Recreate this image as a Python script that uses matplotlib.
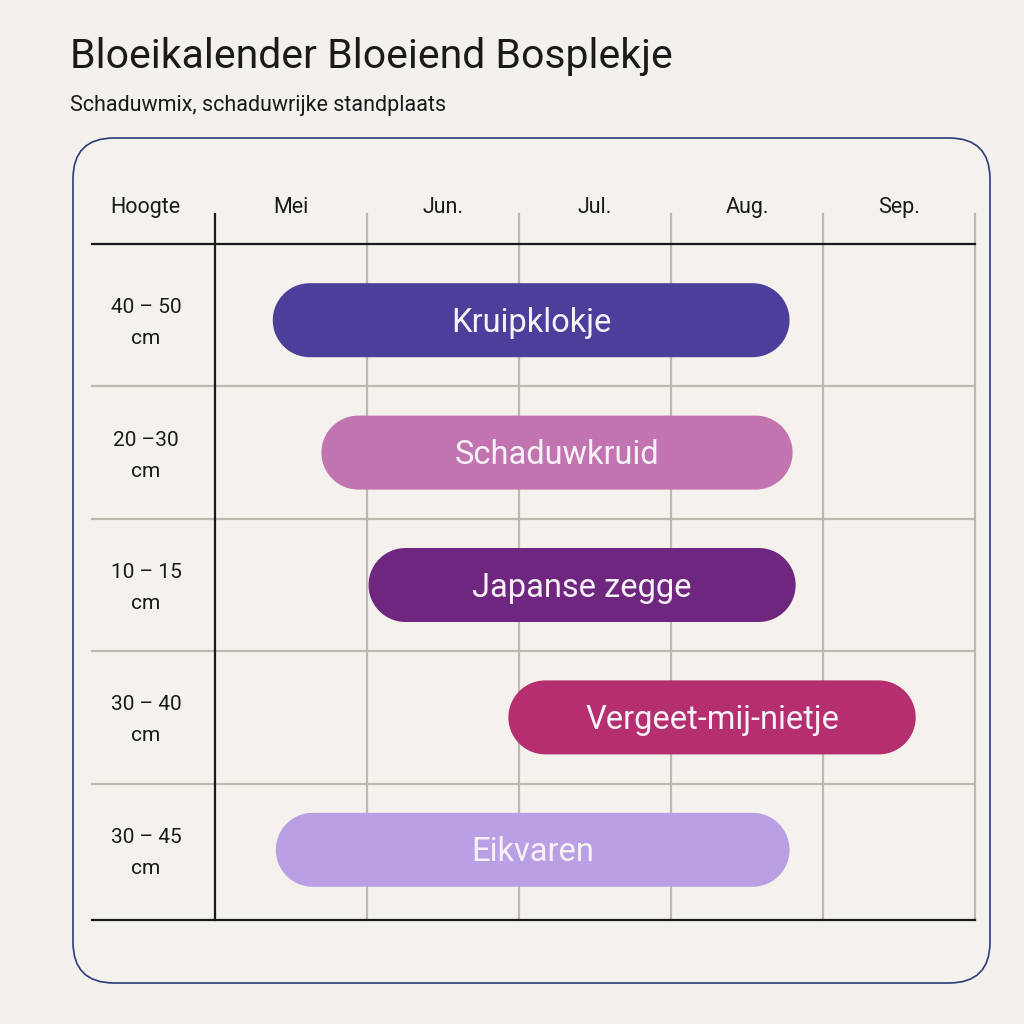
import matplotlib
matplotlib.use("Agg")
import matplotlib.pyplot as plt
import numpy as np
from matplotlib.patches import FancyBboxPatch, Polygon
from matplotlib.transforms import offset_copy

# --- data ---
months = ["Mei", "Jun.", "Jul.", "Aug.", "Sep."]
plants = ["Kruipklokje", "Schaduwkruid", "Japanse zegge", "Vergeet-mij-nietje", "Eikvaren"]
heights = ["40 – 50\ncm", "20 –30\ncm", "10 – 15\ncm", "30 – 40\ncm", "30 – 45\ncm"]
# bloom start / end in months from the start of May
bloom_start = [0.38, 0.70, 1.01, 1.93, 0.40]
bloom_end = [3.78, 3.80, 3.82, 4.61, 3.78]
colors = ["#4b3f9b", "#c274b0", "#6e267e", "#b52e70", "#b9a0e4"]

bg = "#f4f0eb"
grid_col = "#bdb8b0"
ink = "#1a1a1a"

plt.rcParams["font.family"] = ["Roboto", "DejaVu Sans"]

W = H = 1024
fig = plt.figure(figsize=(W / 100, H / 100), dpi=100, facecolor=bg)

# outer rounded frame
frame = FancyBboxPatch((73 / W, 1 - 983 / H), 917 / W, 845 / H,
                       boxstyle="round,pad=0,rounding_size=0.04",
                       transform=fig.transFigure, facecolor="#f5f1ec",
                       edgecolor="#2d3a7c", linewidth=1.2, zorder=-1)
fig.patches.append(frame)

fig.text(70 / W, 1 - 68 / H, "Bloeikalender Bloeiend Bosplekje",
         fontsize=29.5, color=ink, va="baseline", ha="left")
fig.text(70 / W, 1 - 111 / H, "Schaduwmix, schaduwrijke standplaats",
         fontsize=15.5, color=ink, va="baseline", ha="left")

# chart body: x = months since start of May, y = row index
x0, x1, ytop, ybot = 215, 975, 254, 916
ax = fig.add_axes([x0 / W, 1 - ybot / H, (x1 - x0) / W, (ybot - ytop) / H])
ax.set_zorder(1)
ax.set_xlim(0, len(months))
ax.set_ylim(len(plants), 0)
ax.axis("off")
ax.patch.set_alpha(0)

px_x = (x1 - x0) / len(months)
px_y = (ybot - ytop) / len(plants)


def dx(px):
    return (px - x0) / px_x


def dy(py):
    return (py - ytop) / px_y


n = len(plants)
left_ext = dx(92)
head_top = dy(214)
head_line = dy(244)
foot_line = dy(920)

# grid
for m in range(1, len(months) + 1):
    ax.plot([m, m], [head_top, foot_line], color=grid_col, lw=1.6,
            clip_on=False, zorder=1)
for r in range(1, n):
    ax.plot([left_ext, len(months)], [r, r], color=grid_col, lw=1.6,
            clip_on=False, zorder=1)
ax.plot([left_ext, len(months)], [head_line, head_line], color=ink, lw=1.6,
        clip_on=False, zorder=2)
ax.plot([left_ext, len(months)], [foot_line, foot_line], color=ink, lw=1.6,
        clip_on=False, zorder=2)
ax.plot([0, 0], [head_top, foot_line], color=ink, lw=1.6, clip_on=False, zorder=2)


def base_tr(cap_px):
    # shift a baseline-anchored text down so its cap height is centred
    return offset_copy(ax.transData, fig=fig, x=0, y=-cap_px / 2, units="dots")


# header
hdr_tr = base_tr(16)
ax.text(dx(145), dy(205), "Hoogte", ha="center", va="baseline",
        fontsize=15.5, color=ink, clip_on=False, transform=hdr_tr)
for i, m in enumerate(months):
    ax.text(i + 0.5, dy(205), m, ha="center", va="baseline", fontsize=15.5,
            color=ink, clip_on=False, transform=hdr_tr)


def pill(s, e, yc, hh, rx):
    # outline of a bar with semicircular ends
    t = np.linspace(-np.pi / 2, np.pi / 2, 40)
    right = np.column_stack([e - rx + rx * np.cos(t), yc + hh * np.sin(t)])
    left = np.column_stack([s + rx - rx * np.cos(t), yc - hh * np.sin(t)])
    return np.vstack([right, left])


# bars
bar_h = 74 / px_y
rx = 37 / px_x
lbl_tr = base_tr(23)
row_tr = base_tr(16)
for i, (name, s, e, c, h) in enumerate(zip(plants, bloom_start, bloom_end, colors, heights)):
    yc = i + 0.5
    ax.add_patch(Polygon(pill(s, e, yc, bar_h / 2, rx), closed=True,
                         facecolor=c, edgecolor="none", zorder=3))
    ax.text((s + e) / 2, yc, name, ha="center", va="baseline", fontsize=23.5,
            color="#f7f2f7", zorder=4, transform=lbl_tr)
    top, bottom = h.split("\n")
    ax.text(dx(146), yc - 15 / px_y, top, ha="center", va="baseline",
            fontsize=15, color=ink, clip_on=False, transform=row_tr)
    ax.text(dx(146), yc + 16 / px_y, bottom, ha="center", va="baseline",
            fontsize=15, color=ink, clip_on=False, transform=row_tr)

fig.savefig("out.png", dpi=100, facecolor=bg)
